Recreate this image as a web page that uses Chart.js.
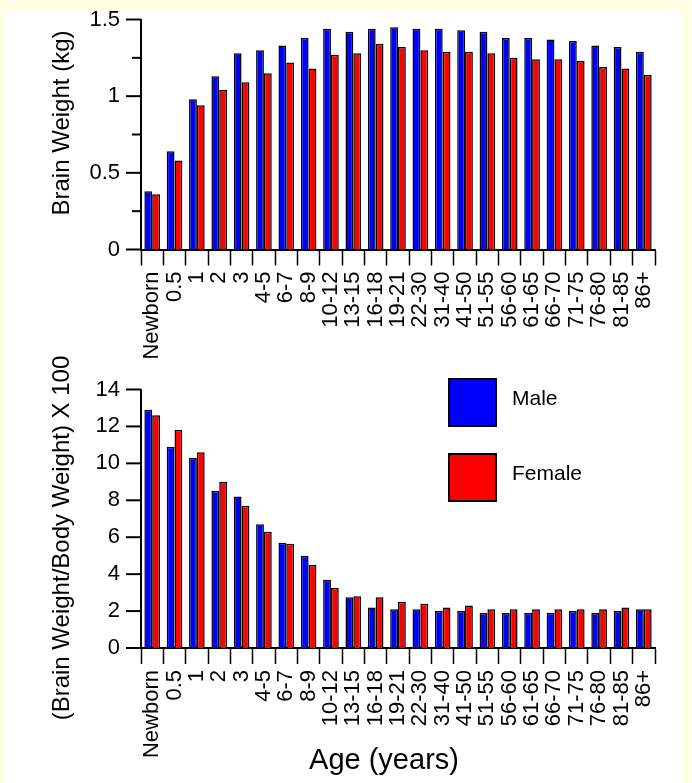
<!DOCTYPE html>
<html>
<head>
<meta charset="utf-8">
<title>Brain weight by age</title>
<script src="https://cdn.jsdelivr.net/npm/chart.js@4/dist/chart.umd.min.js"></script>
<style>
  html, body { margin: 0; padding: 0; background: #FFFFE6; }
  #page { position: relative; width: 692px; height: 783px; overflow: hidden; }
  #panel { position: absolute; left: 6px; top: 11px; width: 677px; height: 772px; background: #ffffff; }
  canvas { position: absolute; left: 0; }
  #weightChart { top: 0; }
  #ratioChart { top: 340px; }
</style>
</head>
<body>
<div id="page">
  <div id="panel"></div>
  <canvas id="weightChart" width="692" height="370"></canvas>
  <canvas id="ratioChart" width="692" height="443"></canvas>
</div>
<script>
// Age groups shared by both panels
const ageGroups = ['Newborn', '0.5', '1', '2', '3', '4-5', '6-7', '8-9', '10-12', '13-15', '16-18',
  '19-21', '22-30', '31-40', '41-50', '51-55', '56-60', '61-65', '66-70', '71-75', '76-80', '81-85', '86+'];

// Brain weight (kg)
const maleBrainKg   = [0.38, 0.64, 0.98, 1.13, 1.28, 1.30, 1.33, 1.38, 1.44, 1.42, 1.44,
  1.45, 1.44, 1.44, 1.43, 1.42, 1.38, 1.38, 1.37, 1.36, 1.33, 1.32, 1.29];
const femaleBrainKg = [0.36, 0.58, 0.94, 1.04, 1.09, 1.15, 1.22, 1.18, 1.27, 1.28, 1.34,
  1.32, 1.30, 1.29, 1.29, 1.28, 1.25, 1.24, 1.24, 1.23, 1.19, 1.18, 1.14];

// (Brain weight / body weight) x 100
const maleRatio   = [12.9, 10.9, 10.3, 8.5, 8.2, 6.7, 5.7, 5.0, 3.7, 2.75, 2.2,
  2.1, 2.1, 2.0, 2.0, 1.9, 1.9, 1.9, 1.9, 2.0, 1.9, 2.0, 2.1];
const femaleRatio = [12.6, 11.8, 10.6, 9.0, 7.7, 6.3, 5.65, 4.5, 3.25, 2.8, 2.75,
  2.5, 2.4, 2.2, 2.3, 2.1, 2.1, 2.1, 2.1, 2.1, 2.1, 2.2, 2.1];

// Labelled y ticks (other steps get an unlabelled short mark)
const weightTickLabels = ['0', '0.5', '1', '1.5'];
const ratioTickLabels = ['0', '2', '4', '6', '8', '10', '12', '14'];

const seriesNames = ['Male', 'Female'];
const seriesColors = ['#0000FF', '#FF0000'];

const FONT = '"Liberation Sans", Arial, Helvetica, sans-serif';
Chart.defaults.font.family = FONT;
Chart.defaults.color = '#000';

// Short outward tick marks on the value axis; labelled steps get the longer mark
const yTickMarks = {
  id: 'yTickMarks',
  afterDraw(chart, args, opts) {
    const s = chart.scales.y, ctx = chart.ctx;
    ctx.save();
    ctx.strokeStyle = '#000';
    ctx.lineWidth = opts.width;
    s.ticks.forEach(t => {
      const y = s.getPixelForValue(t.value);
      const len = t.label ? opts.major : opts.minor;
      ctx.beginPath();
      ctx.moveTo(s.right - len, y);
      ctx.lineTo(s.right, y);
      ctx.stroke();
    });
    ctx.restore();
  }
};

// Free-standing axis captions
const captions = {
  id: 'captions',
  afterDraw(chart, args, opts) {
    const ctx = chart.ctx;
    opts.items.forEach(it => {
      ctx.save();
      ctx.font = it.font;
      ctx.fillStyle = '#000';
      ctx.textAlign = 'center';
      ctx.textBaseline = 'middle';
      ctx.translate(it.x, it.y);
      ctx.rotate(it.rotate || 0);
      ctx.fillText(it.text, 0, 0);
      ctx.restore();
    });
  }
};

// Large square swatches stacked vertically inside the plot
const boxLegend = {
  id: 'boxLegend',
  afterDraw(chart, args, o) {
    if (!o.show) return;
    const ctx = chart.ctx;
    chart.data.datasets.forEach((ds, i) => {
      const y = o.y + i * o.gap;
      ctx.save();
      ctx.fillStyle = ds.backgroundColor;
      ctx.fillRect(o.x, y, o.size, o.size);
      ctx.lineWidth = 2;
      ctx.strokeStyle = '#000';
      ctx.strokeRect(o.x, y, o.size, o.size);
      ctx.font = o.font;
      ctx.fillStyle = '#000';
      ctx.textAlign = 'left';
      ctx.textBaseline = 'middle';
      ctx.fillText(ds.label, o.x + o.size + o.textGap, y + o.size / 2 + o.textDy);
      ctx.restore();
    });
  }
};

function makeDatasets(male, female) {
  return [male, female].map((vals, i) => ({
    label: seriesNames[i],
    data: vals,
    backgroundColor: seriesColors[i],
    borderColor: '#000',
    borderWidth: 1.5,
    borderSkipped: 'bottom',
    categoryPercentage: 0.70,
    barPercentage: 1.0
  }));
}

function buildChart(canvasId, male, female, yCfg, extra) {
  return new Chart(document.getElementById(canvasId), {
    type: 'bar',
    data: { labels: ageGroups, datasets: makeDatasets(male, female) },
    plugins: [yTickMarks, captions, boxLegend],
    options: {
      responsive: false,
      animation: false,
      events: [],
      layout: { padding: { left: 0, top: extra.top, right: 37, bottom: 0 } },
      scales: {
        x: {
          offset: true,
          afterFit(s) { s.height = extra.xHeight; s.paddingLeft = 0; s.paddingRight = 0; },
          border: { display: true, color: '#000', width: 2 },
          grid: {
            offset: true, drawOnChartArea: false, drawTicks: true,
            tickLength: 16, tickColor: '#000', tickWidth: 1.5
          },
          ticks: {
            autoSkip: false, minRotation: 90, maxRotation: 90, padding: 6,
            font: { size: 22 }, color: '#000'
          }
        },
        y: {
          min: 0, max: yCfg.max,
          afterFit(s) { s.width = 141; s.paddingTop = 0; s.paddingBottom = 0; },
          border: { display: true, color: '#000', width: 2 },
          grid: { display: false, drawTicks: false },
          ticks: {
            stepSize: yCfg.step,
            padding: 21,
            font: { size: 22 }, color: '#000',
            callback(v) {
              const idx = yCfg.labelled.map(Number).indexOf(Number(v.toFixed(4)));
              return idx >= 0 ? yCfg.labelled[idx] : '';
            }
          }
        }
      },
      plugins: {
        legend: { display: false },
        tooltip: { enabled: false },
        yTickMarks: { major: 15, minor: 9, width: 2 },
        captions: { items: extra.captions },
        boxLegend: extra.legend
      }
    }
  });
}

buildChart('weightChart', maleBrainKg, femaleBrainKg,
  { max: 1.5, step: 0.25, labelled: weightTickLabels },
  {
    top: 19.5,
    xHeight: 120.5,
    captions: [
      { text: 'Brain Weight (kg)', x: 62, y: 123, rotate: -Math.PI / 2, font: '24px ' + FONT }
    ],
    legend: { show: false }
  });

buildChart('ratioChart', maleRatio, femaleRatio,
  { max: 14, step: 2, labelled: ratioTickLabels },
  {
    top: 49.5,
    xHeight: 135,
    captions: [
      { text: '(Brain Weight/Body Weight) X 100', x: 62, y: 198, rotate: -Math.PI / 2, font: '24px ' + FONT },
      { text: 'Age (years)', x: 384, y: 421, rotate: 0, font: '29px ' + FONT }
    ],
    legend: { show: true, x: 449, y: 39, size: 47, gap: 75, textGap: 16, textDy: -3, font: '21px ' + FONT }
  });
</script>
</body>
</html>
